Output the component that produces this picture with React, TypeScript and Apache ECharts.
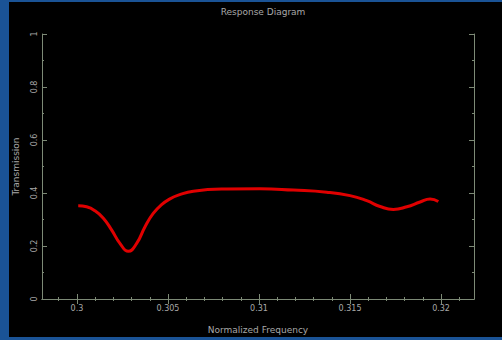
import React, { useEffect, useRef } from "react";
import * as echarts from "echarts";

const freq = [0.30007, 0.30053, 0.30099, 0.30145, 0.30191, 0.30236, 0.30282, 0.30328, 0.30374, 0.30419, 0.30465, 0.30511, 0.30557, 0.30639, 0.30823, 0.31005, 0.31188, 0.31372, 0.31500, 0.31592, 0.31665, 0.31738, 0.31812, 0.31885, 0.31940, 0.31985];
const transmission = [0.352, 0.348, 0.333, 0.305, 0.260, 0.210, 0.180, 0.210, 0.273, 0.323, 0.356, 0.378, 0.392, 0.407, 0.415, 0.416, 0.411, 0.403, 0.390, 0.371, 0.349, 0.338, 0.348, 0.366, 0.377, 0.368];
const xMajor = [0.3, 0.305, 0.31, 0.315, 0.32];
const xMinor = [0.299, 0.301, 0.302, 0.303, 0.304, 0.306, 0.307, 0.308, 0.309, 0.311, 0.312, 0.313, 0.314, 0.316, 0.317, 0.318, 0.319, 0.321];
const yMajor = [0, 0.2, 0.4, 0.6, 0.8, 1];
const yMinor = [0.1, 0.3, 0.5, 0.7, 0.9];

const AXIS = "#7d8a76";
const TXT = "#a8a8a8";
const FONT = "DejaVu Sans";
const XMIN = 0.29808;
const XMAX = 0.32181;

export default function App() {
  const ref = useRef<HTMLDivElement>(null);
  useEffect(() => {
    const chart = echarts.init(ref.current!, null, { renderer: "svg" });
    const xBase = (pos: string, ticks: number[], len: number, showLabel: boolean, showLine: boolean, extra: any = {}) => ({
      type: "value",
      position: pos,
      min: XMIN,
      max: XMAX,
      splitLine: { show: false },
      axisLine: { show: showLine, lineStyle: { color: AXIS, width: 1 } },
      axisTick: { show: true, inside: true, length: len, customValues: ticks, lineStyle: { color: AXIS } },
      axisLabel: showLabel
        ? { show: true, customValues: ticks, color: TXT, fontSize: 8, fontFamily: FONT, margin: 5, formatter: (v: number) => String(+v.toFixed(3)) }
        : { show: false },
      ...extra,
    });
    const yBase = (pos: string, ticks: number[], len: number, showLabel: boolean, showLine: boolean, extra: any = {}) => ({
      type: "value",
      position: pos,
      min: 0,
      max: 1,
      splitLine: { show: false },
      axisLine: { show: showLine, lineStyle: { color: AXIS, width: 1 } },
      axisTick: { show: true, inside: true, length: len, customValues: ticks, lineStyle: { color: AXIS } },
      axisLabel: showLabel
        ? { show: true, customValues: ticks, color: TXT, fontSize: 8, fontFamily: FONT, margin: 4, rotate: 90, formatter: (v: number) => String(+v.toFixed(1)) }
        : { show: false },
      ...extra,
    });
    chart.setOption({
      animation: false,
      backgroundColor: "#1a5396",
      graphic: [
        { type: "rect", z: -10, shape: { x: 9, y: 2, width: 493, height: 335 }, style: { fill: "#000000" } },
      ],
      title: {
        text: "Response Diagram",
        left: 258,
        textAlign: "center",
        top: 2,
        textStyle: { color: TXT, fontSize: 9, fontWeight: "normal", fontFamily: FONT },
      },
      grid: { left: 42, top: 34, right: 28, bottom: 41 },
      xAxis: [
        xBase("bottom", xMajor, 5, true, true, {
          name: "Normalized Frequency",
          nameLocation: "middle",
          nameGap: 26,
          nameTextStyle: { color: TXT, fontSize: 9, fontFamily: FONT },
        }),
        xBase("bottom", xMinor, 2, false, false),
        xBase("top", xMajor, 5, false, true),
        xBase("top", xMinor, 2, false, false),
      ],
      yAxis: [
        yBase("left", yMajor, 5, true, true, {
          name: "Transmission",
          nameLocation: "middle",
          nameGap: 22,
          nameRotate: 90,
          nameTextStyle: { color: TXT, fontSize: 9, fontFamily: FONT },
        }),
        yBase("left", yMinor, 2, false, false),
        yBase("right", yMajor, 5, false, true),
        yBase("right", yMinor, 2, false, false),
      ],
      series: [
        {
          type: "line",
          xAxisIndex: 0,
          yAxisIndex: 0,
          data: freq.map((f, i) => [f, transmission[i]]),
          smooth: true,
          showSymbol: false,
          lineStyle: { color: "#e00000", width: 3 },
        },
      ],
    });
    return () => chart.dispose();
  }, []);
  return <div ref={ref} style={{ position: "fixed", left: 0, top: 0, width: 502, height: 340 }} />;
}
